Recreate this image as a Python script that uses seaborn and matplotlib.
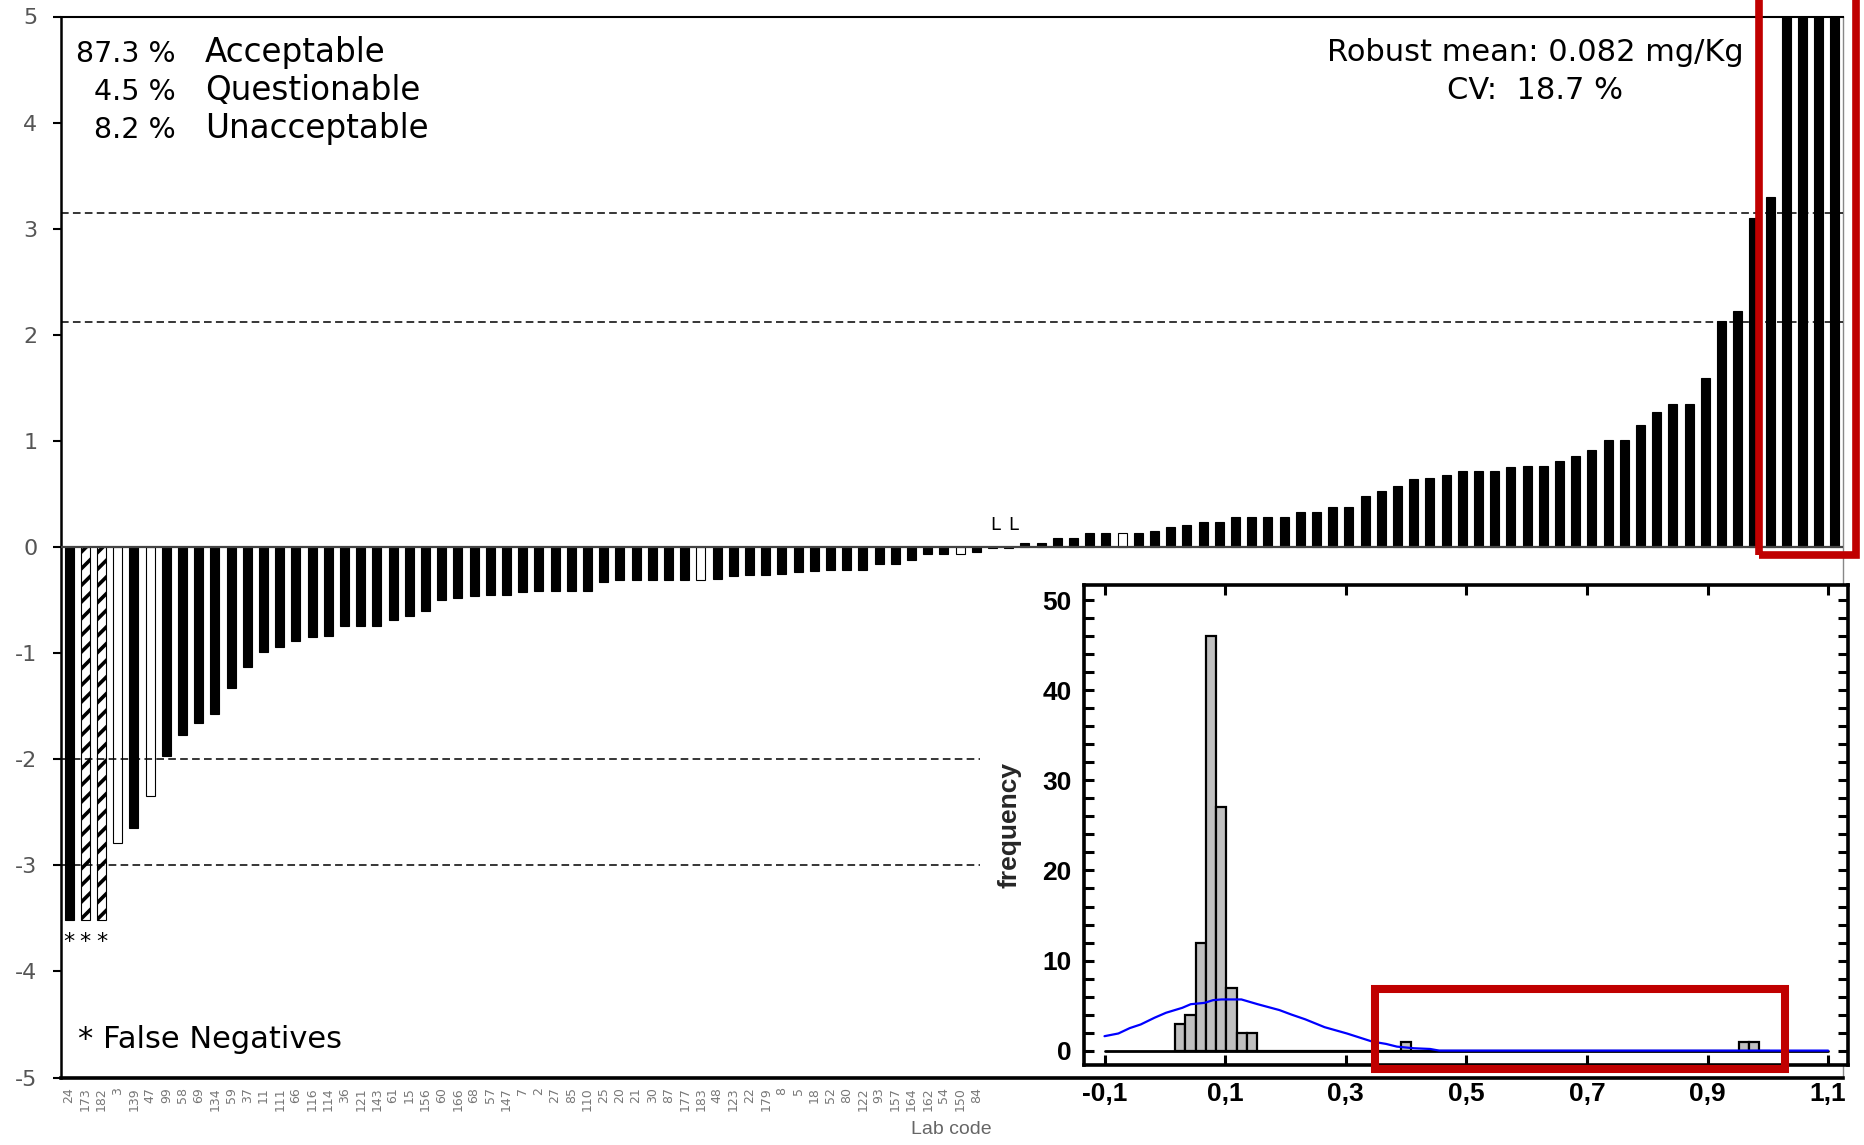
import numpy as np
import pandas as pd
import matplotlib
matplotlib.use("Agg")
import matplotlib.pyplot as plt
import seaborn as sns
from matplotlib.patches import Rectangle
from matplotlib.ticker import MultipleLocator

# ---------------- data ----------------
lab_codes = ["24", "173", "182", "3", "139", "47", "99", "58", "69", "134", "59", "37",
             "11", "111", "66", "116", "114", "36", "121", "143", "61", "15", "156", "60",
             "166", "68", "57", "147", "7", "2", "27", "85", "110", "25", "20", "21", "30",
             "87", "177", "183", "48", "123", "22", "179", "8", "5", "18", "52", "80", "122",
             "93", "157", "164", "162", "54", "150", "84"] + [""] * 53

z_scores = [-3.52, -3.52, -3.52, -2.79, -2.65, -2.35, -1.97, -1.77, -1.66, -1.57,
            -1.33, -1.13, -0.99, -0.94, -0.89, -0.85, -0.84, -0.74, -0.74, -0.74,
            -0.69, -0.65, -0.60, -0.50, -0.48, -0.46, -0.455, -0.455, -0.42, -0.41,
            -0.41, -0.41, -0.41, -0.33, -0.31, -0.31, -0.31, -0.31, -0.31, -0.31,
            -0.305, -0.27, -0.26, -0.26, -0.25, -0.24, -0.23, -0.22, -0.22, -0.22,
            -0.16, -0.16, -0.12, -0.07, -0.065, -0.063, -0.047, -0.012, -0.01, 0.04,
            0.04, 0.085, 0.085, 0.13, 0.13, 0.13, 0.13, 0.155, 0.186, 0.208,
            0.233, 0.233, 0.284, 0.284, 0.284, 0.284, 0.331, 0.331, 0.378, 0.378,
            0.476, 0.527, 0.577, 0.643, 0.653, 0.675, 0.72, 0.72, 0.72, 0.75,
            0.76, 0.76, 0.81, 0.86, 0.91, 1.01, 1.01, 1.15, 1.27, 1.35,
            1.35, 1.59, 2.13, 2.22, 3.10, 3.30, 5.0, 5.0, 5.0, 5.0]

open_bars = [3, 5, 39, 55, 65]          # white bars
false_negative_bars = [1, 2]            # hatched bars
asterisk_bars = [0, 1, 2]
less_than_bars = [57, 58]               # "L" results

upper_limits = [3.15, 2.12]
lower_limits = [-2.0, -3.0]

summary_pct = ["87.3 %", "4.5 %", "8.2 %"]
summary_lbl = ["Acceptable", "Questionable", "Unacceptable"]
robust_text = ["Robust mean: 0.082 mg/Kg", "CV:  18.7 %"]

# inset histogram (bin left edges, counts)
hist_left = [0.0172, 0.0342, 0.0512, 0.0682, 0.0852, 0.1022, 0.1192, 0.1362,
             0.3912, 0.9522, 0.9692]
hist_counts = [3, 4, 12, 46, 27, 7, 2, 2, 1, 1, 1]
bin_width = 0.017

curve_x = [-0.1, -0.077, -0.058, -0.04, -0.017, 0.002, 0.029, 0.043, 0.066, 0.08,
           0.094, 0.127, 0.154, 0.19, 0.21, 0.233, 0.265, 0.302, 0.344, 0.367,
           0.385, 0.413, 0.44, 0.455, 1.1]
curve_y = [1.6, 1.9, 2.5, 2.9, 3.65, 4.2, 4.75, 5.15, 5.3, 5.6,
           5.68, 5.68, 5.15, 4.5, 4.0, 3.47, 2.6, 1.9, 1.0, 0.74,
           0.44, 0.26, 0.18, 0.0, 0.0]

inset_xticks = [-0.1, 0.1, 0.3, 0.5, 0.7, 0.9, 1.1]
inset_xticklabels = ["-0,1", "0,1", "0,3", "0,5", "0,7", "0,9", "1,1"]
inset_yticks = [0, 10, 20, 30, 40, 50]

# ---------------- figure ----------------
sns.set_style("white")
plt.rcParams['font.family'] = ['DejaVu Sans']
plt.rcParams['hatch.linewidth'] = 2.6

W, H = 1864, 1145
fig = plt.figure(figsize=(W / 100, H / 100), dpi=100)


def fx(px):
    return px / W


def fy(py):
    return 1 - py / H


ax = fig.add_axes([fx(61), fy(1077.5), (1843 - 61) / W, (1077.5 - 16.5) / H])

n = len(z_scores)
pos = np.arange(n)
bars_df = pd.DataFrame({"pos": pos, "z": z_scores})
sns.barplot(data=bars_df, x="pos", y="z", color="black", saturation=1, width=0.56,
            errorbar=None, edgecolor="black", linewidth=0.8, ax=ax, zorder=2)

for i, p in enumerate(ax.patches):
    if i in open_bars:
        p.set_facecolor("white")
    if i in false_negative_bars:
        p.set_facecolor("white")
        p.set_hatch("//")

ax.set_xlim(-0.5, n - 0.5)
ax.set_ylim(-5, 5)
ax.set_yticks(range(-5, 6))
ax.set_yticklabels([str(v) for v in range(-5, 6)])
ax.tick_params(axis="y", direction="out", length=6, width=1.5, colors="black",
               labelcolor="#555555", labelsize=16, pad=11, left=True)
ax.set_xticks(pos)
ax.set_xticklabels(lab_codes, rotation=90, fontsize=9, color="#777777")
ax.tick_params(axis="x", length=0, pad=7)
ax.set_xlabel("")
ax.set_ylabel("")

for s, lw, c in [("left", 1.8, "black"), ("bottom", 2.6, "black"),
                 ("top", 1.5, "black"), ("right", 1.0, "#888888")]:
    ax.spines[s].set_linewidth(lw)
    ax.spines[s].set_color(c)
    ax.spines[s].set_visible(True)

ax.axhline(0, color="#444444", lw=1.6, zorder=3)
ax.hlines(upper_limits, -0.5, n - 0.5, colors="black", linestyles=(0, (5, 2.8)),
          lw=1.1, zorder=4)
ax.hlines(lower_limits, -0.5, 56.2, colors="black", linestyles=(0, (5, 2.8)),
          lw=1.1, zorder=4)

for i in asterisk_bars:
    ax.text(i, -3.72, "*", ha="center", va="center", fontsize=16, color="black")
for i, off in zip(less_than_bars, [0.15, 0.3]):
    ax.text(i + off, 0.16, "L", ha="center", va="baseline", fontsize=13, color="black")

# text annotations
for k, (pc, lb) in enumerate(zip(summary_pct, summary_lbl)):
    yb = 62 + 38 * k
    fig.text(fx(176), fy(yb), pc, ha="right", va="baseline", fontsize=20.5, color="black")
    fig.text(fx(205), fy(yb), lb, ha="left", va="baseline", fontsize=23.5, color="black")
for k, t in enumerate(robust_text):
    fig.text(fx(1535), fy(61 + 38 * k), t, ha="center", va="baseline",
             fontsize=22, color="black")
fig.text(fx(78), fy(1048), "* False Negatives", ha="left", va="baseline",
         fontsize=22, color="black")
fig.text(fx(951), fy(1130), "Lab code", ha="center", va="center",
         fontsize=14, color="#666666", family=["Liberation Sans", "DejaVu Sans"])

# ---------------- inset ----------------
axin = fig.add_axes([fx(1084), fy(1065), (1848 - 1084) / W, (1065 - 585) / H])
axin.set_facecolor("white")
axin.set_zorder(5)

edges = [0.0172 + bin_width * k for k in range(59)]
hist_df = pd.DataFrame({"x": [l + bin_width / 2 for l in hist_left],
                        "w": hist_counts})
axin.plot([-0.1, 1.1], [0, 0], color="black", lw=2.0, zorder=1)
sns.histplot(data=hist_df, x="x", weights="w", bins=edges, color="#c0c0c0",
             edgecolor="black", linewidth=1.6, alpha=1, ax=axin, zorder=2)
sns.lineplot(x=curve_x, y=curve_y, color="#0000ff", lw=1.6, estimator=None,
             sort=False, ax=axin, zorder=3)

axin.set_xlim(-0.134, 1.133)
axin.set_ylim(-1.6, 51.7)
axin.set_xticks(inset_xticks)
axin.set_xticklabels(inset_xticklabels)
axin.set_yticks(inset_yticks)
axin.yaxis.set_minor_locator(MultipleLocator(2))
axin.tick_params(which="both", direction="in", length=7, width=2.2,
                 top=True, right=True, bottom=True, left=True, colors="black")
axin.tick_params(axis="x", pad=12)
axin.tick_params(axis="y", pad=9)
narrow = ["Liberation Sans Narrow", "DejaVu Sans Condensed", "Liberation Sans"]
for lab in axin.get_xticklabels() + axin.get_yticklabels():
    lab.set_fontfamily(narrow)
    lab.set_fontweight("bold")
    lab.set_fontsize(19)
for s in axin.spines.values():
    s.set_linewidth(2.6)
    s.set_color("black")
    s.set_visible(True)
axin.set_xlabel("")
axin.set_ylabel("frequency", fontsize=19, fontweight="bold",
                family=["Liberation Sans", "DejaVu Sans"])
axin.yaxis.set_label_coords(-0.082, 0.5)

# ---------------- red highlight boxes ----------------
red = "#c00000"
fig.add_artist(Rectangle((fx(1759), fy(555.5)), (1856 - 1759) / W, (555.5 + 10) / H,
                         transform=fig.transFigure, fill=False, edgecolor=red,
                         lw=5.5, zorder=10))
fig.add_artist(Rectangle((fx(1375), fy(1069)), (1785 - 1375) / W, (1069 - 989) / H,
                         transform=fig.transFigure, fill=False, edgecolor=red,
                         lw=5.8, zorder=10))

fig.savefig("out.png", dpi=100)
